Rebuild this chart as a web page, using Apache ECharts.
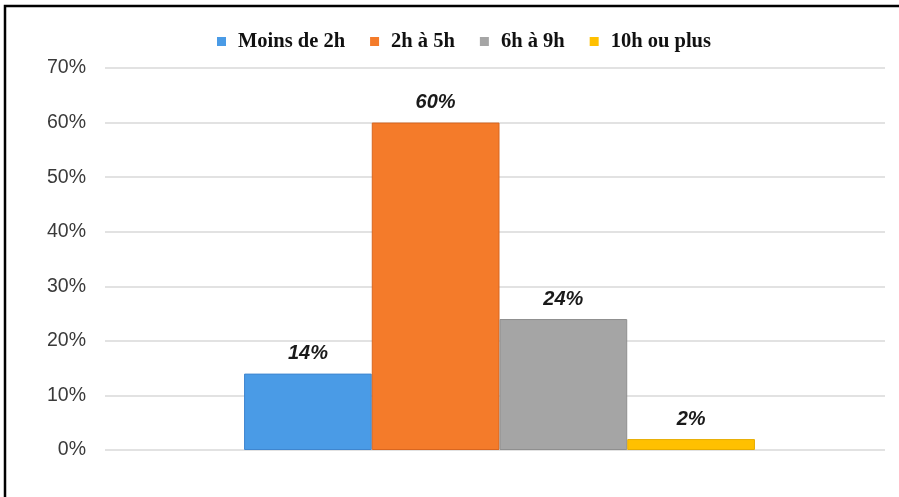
<!DOCTYPE html>
<html><head><meta charset="utf-8">
<script src="https://cdn.jsdelivr.net/npm/echarts@6/dist/echarts.min.js"></script>
<style>html,body{margin:0;padding:0;background:#fff}#c{width:899px;height:497px}</style>
</head><body><div id="c"></div>
<script>
const categories = [''];
const seriesNames = ['Moins de 2h', '2h à 5h', '6h à 9h', '10h ou plus'];
const seriesValues = [14, 60, 24, 2];
const colors = ['#4A9BE6', '#F47B2A', '#A5A5A5', '#FFC000'];
const borders = ['#3F86CF', '#D9661F', '#8F8F8F', '#E6AC00'];
const yTicks = [0, 10, 20, 30, 40, 50, 60, 70];

const chart = echarts.init(document.getElementById('c'), null, {renderer: 'canvas'});
chart.setOption({
  animation: false,
  backgroundColor: '#fff',
  color: colors,
  graphic: [
    {type: 'polyline', shape: {points: [[5, 497], [5, 6], [899, 6]]}, style: {stroke: '#000', lineWidth: 2.5, fill: null}}
  ],
  legend: {
    top: 31, left: 217, padding: 0,
    itemWidth: 9, itemHeight: 9, itemGap: 25,
    icon: 'rect',
    itemStyle: {borderWidth: 0},
    textStyle: {fontFamily: 'Liberation Serif', fontWeight: 'bold', fontSize: 20.5, color: '#111', padding: [0, 0, 0, 7]},
    data: seriesNames
  },
  grid: [
    {left: 105, right: 14, top: 68, bottom: 47, containLabel: false},
    {left: 109.5, right: 9.5, top: 68, bottom: 47, containLabel: false}
  ],
  xAxis: [
    {type: 'category', data: categories, gridIndex: 0,
      axisLine: {show: false}, axisTick: {show: false}, axisLabel: {show: false}},
    {type: 'category', data: categories, gridIndex: 1,
      axisLine: {show: false}, axisTick: {show: false}, axisLabel: {show: false}}
  ],
  yAxis: [
    {type: 'value', gridIndex: 0, min: yTicks[0], max: yTicks[yTicks.length - 1], interval: 10,
      axisLine: {show: false}, axisTick: {show: false},
      axisLabel: {formatter: v => v + '%', fontFamily: 'Liberation Sans', fontSize: 19.5, color: '#3a3a3a', margin: 19},
      splitLine: {lineStyle: {color: '#d9d9d9', width: 1.5}}},
    {type: 'value', gridIndex: 1, min: yTicks[0], max: yTicks[yTicks.length - 1], interval: 10,
      show: false, splitLine: {show: false}}
  ],
  series: seriesNames.map((n, i) => ({
    name: n, type: 'bar', xAxisIndex: 1, yAxisIndex: 1,
    barGap: '0%', barCategoryGap: '34.5%',
    data: [seriesValues[i]],
    itemStyle: {color: colors[i], borderColor: borders[i], borderWidth: 1},
    label: {show: true, position: 'top', distance: 10, formatter: p => p.value + '%',
      fontFamily: 'Liberation Sans', fontStyle: 'italic', fontWeight: 'bold', fontSize: 20, color: '#1a1a1a'}
  }))
});
</script></body></html>
